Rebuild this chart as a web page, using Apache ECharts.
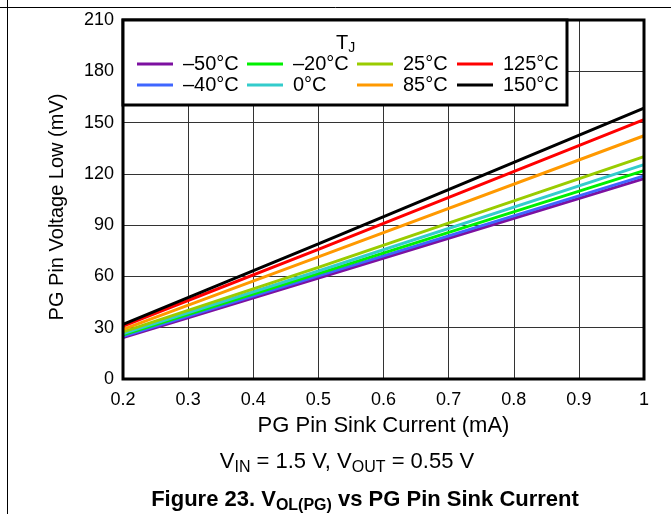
<!DOCTYPE html>
<html><head><meta charset="utf-8">
<script src="https://cdn.jsdelivr.net/npm/echarts@6/dist/echarts.min.js"></script>
<style>html,body{margin:0;padding:0;background:#fff}#c{width:671px;height:514px}</style>
</head><body><div id="c"></div>
<script>
const xValues = [0.2, 0.5, 1.0];
const temps = ['\u201350\u00B0C', '\u201340\u00B0C', '\u201320\u00B0C', '0\u00B0C', '25\u00B0C', '85\u00B0C', '125\u00B0C', '150\u00B0C'];
const vM50 = [24.3, 59.1, 117.2];
const vM40 = [24.9, 60.3, 118.8];
const vM20 = [25.8, 61.6, 121.9];
const v0 = [26.6, 63.2, 125.4];
const v25 = [27.6, 65.3, 130.1];
const v85 = [29.0, 71.4, 142.3];
const v125 = [31.0, 75.8, 151.7];
const v150 = [32.0, 79.1, 158.5];
const seriesValues = [vM50, vM40, vM20, v0, v25, v85, v125, v150];
const colors = ['#7d10a0', '#3f66ff', '#00f000', '#33cccc', '#99cc00', '#ff9900', '#ff0000', '#000000'];
const xTicks = [0.2, 0.3, 0.4, 0.5, 0.6, 0.7, 0.8, 0.9, 1];
const yTicks = [0, 30, 60, 90, 120, 150, 180, 210];

const FONT = 'Liberation Sans, Arial, sans-serif';
const chart = echarts.init(document.getElementById('c'), null, {renderer: 'canvas'});

const series = seriesValues.map((vals, i) => ({
  name: temps[i], type: 'line', symbol: 'none', z: 3 + i,
  lineStyle: {width: 3, color: colors[i]}, itemStyle: {color: colors[i]},
  data: vals.map((v, j) => [xValues[j], v])
}));

const legendCols = [[0, 1], [2, 3], [4, 5], [6, 7]];
const legendLefts = [137, 247, 357, 457];
const legends = legendCols.map((idx, k) => ({
  orient: 'vertical', left: legendLefts[k], top: 54, padding: 0, z: 30,
  itemGap: 1, itemWidth: 36, itemHeight: 3, icon: 'rect',
  data: idx.map(i => temps[i]),
  textStyle: {fontFamily: FONT, fontSize: 20, lineHeight: 20, color: '#000', padding: [0, 0, 0, 5]},
  selectedMode: false
}));

chart.setOption({
  animation: false,
  backgroundColor: '#fff',
  grid: {left: 123, top: 20, right: 27, bottom: 135, show: true, borderColor: '#000', borderWidth: 3, z: 10},
  xAxis: {
    type: 'value', min: xTicks[0], max: xTicks[xTicks.length - 1], interval: 0.1,
    name: 'PG Pin Sink Current (mA)', nameLocation: 'middle', nameGap: 36,
    nameTextStyle: {fontFamily: FONT, fontSize: 22, color: '#000'},
    axisLine: {show: false}, axisTick: {show: false},
    axisLabel: {fontFamily: FONT, fontSize: 18, color: '#000', margin: 12,
      formatter: v => (Math.abs(v - 1) < 1e-9 ? '1' : v.toFixed(1))},
    splitLine: {show: true, lineStyle: {color: '#333', width: 1}}
  },
  yAxis: {
    type: 'value', min: yTicks[0], max: yTicks[yTicks.length - 1], interval: 30,
    axisLine: {show: false}, axisTick: {show: false},
    axisLabel: {fontFamily: FONT, fontSize: 18, color: '#000', margin: 9},
    splitLine: {show: true, lineStyle: {color: '#333', width: 1}}
  },
  legend: legends,
  series: series,
  graphic: [
    {type: 'line', shape: {x1: 0, y1: 7.5, x2: 671, y2: 7.5}, style: {stroke: '#000', lineWidth: 1}, z: 100},
    {type: 'line', shape: {x1: 7.5, y1: 0, x2: 7.5, y2: 514}, style: {stroke: '#000', lineWidth: 1}, z: 100},
    {type: 'rect', shape: {x: 123, y: 20, width: 444, height: 85}, style: {fill: '#fff', stroke: '#000', lineWidth: 3}, z: 15},
    {type: 'text', left: 336, top: 33, z: 60,
      style: {text: '{m|T}{s|J}', rich: {m: {fontFamily: FONT, fontSize: 20, fill: '#000'}, s: {fontFamily: FONT, fontSize: 14, fill: '#000', padding: [10, 0, 0, 0]}}}},
    {type: 'text', x: 57, y: 207, rotation: Math.PI / 2, z: 60,
      style: {text: 'PG Pin Voltage Low (mV)', align: 'center', verticalAlign: 'middle', fontFamily: FONT, fontSize: 20, fill: '#000'}},
    {type: 'text', x: 347, y: 462, z: 60,
      style: {text: '{m|V}{s|IN}{m| = 1.5 V, V}{s|OUT}{m| = 0.55 V}', align: 'center', verticalAlign: 'middle',
        rich: {m: {fontFamily: FONT, fontSize: 22, fill: '#000'}, s: {fontFamily: FONT, fontSize: 16, fill: '#000', padding: [11, 0, 0, 0]}}}},
    {type: 'text', x: 365, y: 500, z: 60,
      style: {text: '{m|Figure 23. V}{s|OL(PG)}{m| vs PG Pin Sink Current}', align: 'center', verticalAlign: 'middle',
        rich: {m: {fontFamily: FONT, fontSize: 22, fontWeight: 'bold', fill: '#000'}, s: {fontFamily: FONT, fontSize: 16, fontWeight: 'bold', fill: '#000', padding: [11, 0, 0, 0]}}}}
  ]
});
</script></body></html>
